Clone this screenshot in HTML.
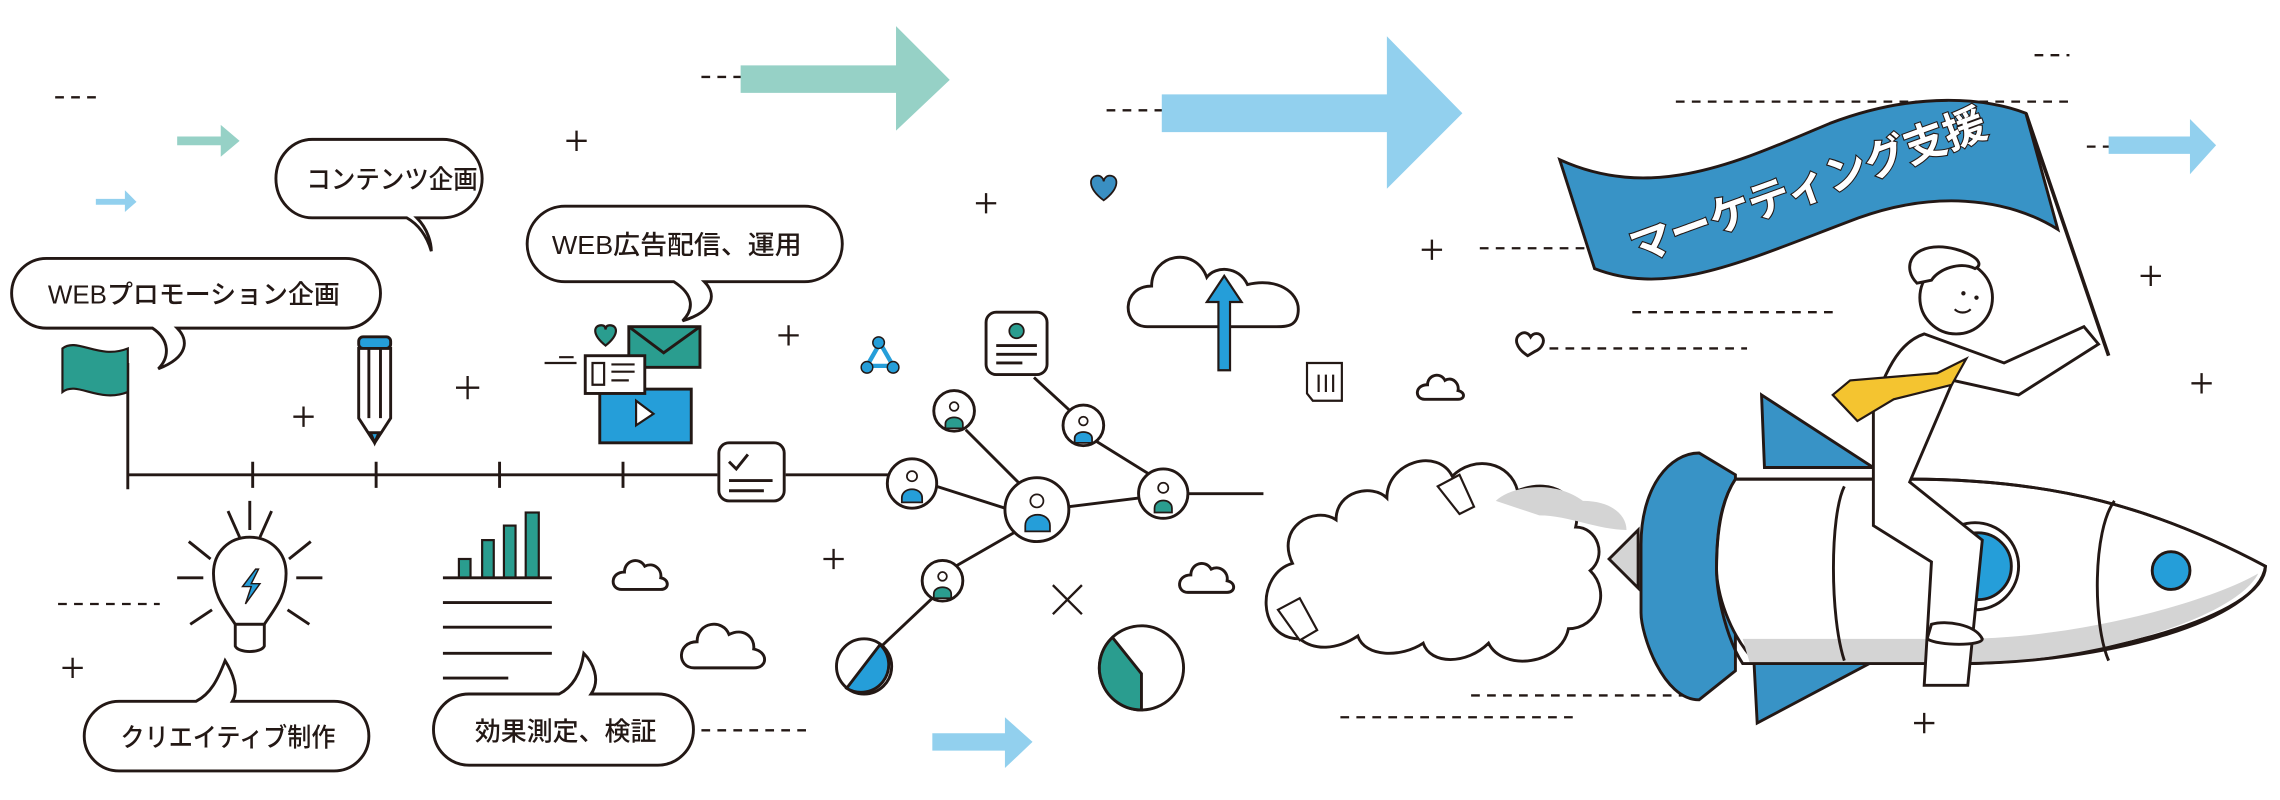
<!DOCTYPE html>
<html><head><meta charset="utf-8"><style>
html,body{margin:0;padding:0;background:#fff;width:2280px;height:800px;overflow:hidden}
svg{display:block}
text{font-family:"Liberation Sans","Noto Sans CJK JP",sans-serif;fill:#231815}
</style></head><body>
<svg width="2280" height="800" viewBox="0 0 1570 551" preserveAspectRatio="none" xmlns="http://www.w3.org/2000/svg">
<g fill="none" stroke="#231815" stroke-width="1.6" stroke-dasharray="6 5">
<line x1="38" y1="67" x2="70" y2="67"/>
<line x1="483" y1="53" x2="525" y2="53"/>
<line x1="762" y1="76" x2="825" y2="76"/>
<line x1="1401" y1="38" x2="1425" y2="38"/>
<line x1="1154" y1="70" x2="1426" y2="70"/>
<line x1="1437" y1="101" x2="1462" y2="101"/>
<line x1="1019" y1="171" x2="1095" y2="171"/>
<line x1="1124" y1="215" x2="1264" y2="215"/>
<line x1="1067" y1="240" x2="1203" y2="240"/>
<line x1="1013" y1="479" x2="1162" y2="479"/>
<line x1="923" y1="494" x2="1084" y2="494"/>
<line x1="40" y1="416" x2="110" y2="416"/>
<line x1="483" y1="503" x2="557" y2="503"/>
</g>
<polygon points="510,45 617,45 617,18 654,55 617,90 617,64 510,64" fill="#96d1c6"/>
<polygon points="800,65 955,65 955,25 1007,78 955,130 955,91 800,91" fill="#92d0ee"/>
<polygon points="1452,94 1508,94 1508,82 1526,100 1508,120 1508,106 1452,106" fill="#92d0ee"/>
<polygon points="642,505 692,505 692,494 711,511 692,529 692,517 642,517" fill="#92d0ee"/>
<polygon points="122,94 152,94 152,86 165,97 152,108 152,100 122,100" fill="#96d1c6"/>
<polygon points="66,137 86,137 86,131 94,139 86,146 86,141 66,141" fill="#92d0ee"/>
<g stroke="#231815" stroke-width="1.6">
<path d="M390,97h14M397,90v14"/><path d="M202,287h14M209,280v14"/><path d="M314,267h16M322,259v16"/>
<path d="M536,231h14M543,224v14"/><path d="M672,140h14M679,133v14"/><path d="M567,385h14M574,378v14"/>
<path d="M43,460h14M50,453v14"/><path d="M979,172h14M986,165v14"/><path d="M1474,190h14M1481,183v14"/>
<path d="M1509,264h14M1516,257v14"/><path d="M1318,498h14M1325,491v14"/>
<path d="M725,403l20,20M745,403l-20,20"/>
</g>
<g fill="#fff" stroke="#231815" stroke-width="2">
<path d="M215,96h90a25,25 0 0 1 0,54h-18c8,8 10,18 10,23c-3,-10 -8,-18 -17,-23h-65a25,27 0 0 1 0,-54z"/>
<path d="M32,178h206a24,24 0 0 1 0,48h-116c8,8 8,20 -13,28c8,-8 8,-20 -4,-28h-73a24,24 0 0 1 0,-48z"/>
<path d="M389,142h165a26,26 0 0 1 0,52h-69c8,8 8,20 -15,27c8,-8 8,-18 -6,-27h-75a26,26 0 0 1 0,-52z"/>
<path d="M82,483h53c10,-5 15,-15 20,-28c5,8 10,20 5,28h70a24,24 0 0 1 0,48h-148a24,24 0 0 1 0,-48z"/>
<path d="M323,478h62c10,-5 15,-15 17,-28c6,6 12,18 5,28h46a24,24 0 0 1 0,49h-130a24,24 0 0 1 0,-49z"/>
</g>
<g font-size="18" font-weight="500">
<text x="211" y="130" textLength="118" lengthAdjust="spacingAndGlyphs">コンテンツ企画</text>
<text x="33" y="209" textLength="201" lengthAdjust="spacingAndGlyphs">WEBプロモーション企画</text>
<text x="380" y="175" textLength="172" lengthAdjust="spacingAndGlyphs">WEB広告配信、運用</text>
<text x="83" y="514" textLength="148" lengthAdjust="spacingAndGlyphs">クリエイティブ制作</text>
<text x="327" y="510" textLength="125" lengthAdjust="spacingAndGlyphs">効果測定、検証</text>
</g>
<g stroke="#231815" stroke-width="2" fill="none">
<path d="M88,250V337M88,327H494M541,327H612M174,318v18M259,318v18M344,318v18M429,318v18"/>
<line x1="645" y1="335" x2="692" y2="350"/><line x1="665" y1="296" x2="703" y2="334"/>
<line x1="736" y1="349" x2="784" y2="343"/><line x1="712" y1="260" x2="738" y2="284"/>
<line x1="755" y1="304" x2="792" y2="327"/><line x1="818" y1="340" x2="870" y2="340"/>
<line x1="698" y1="367" x2="658" y2="390"/><line x1="642" y1="412" x2="606" y2="446"/>
</g>
<path d="M43,240c10,-8 25,8 45,0v30c-20,8 -35,-8 -45,0z" fill="#2a9d8f" stroke="#231815" stroke-width="1.5"/>
<rect x="495" y="305" width="45" height="40" rx="7" fill="#fff" stroke="#231815" stroke-width="2"/>
<path d="M502,318l5,5 8,-10M502,331h30M502,338h24" stroke="#231815" stroke-width="2" fill="none"/>
<g stroke="#231815" stroke-width="2">
<rect x="247" y="232" width="22" height="8" rx="3" fill="#259ed9"/>
<path d="M247,240h22v48l-11,17l-11,-17z" fill="#fff"/>
<path d="M254,240v48M262,240v48" fill="none"/>
<path d="M255,298l3,7l3,-7z" fill="#259ed9"/>
</g>
<path d="M417,238c-10,-8 -8,-14 -3,-14c2,0 3,1 3,3c0,-2 1,-3 3,-3c5,0 7,6 -3,14z" fill="#2a9d8f" stroke="#231815" stroke-width="1.5"/>
<rect x="433" y="225" width="49" height="28" fill="#2a9d8f" stroke="#231815" stroke-width="2"/>
<path d="M433,225l24,18 25,-18" fill="none" stroke="#231815" stroke-width="2"/>
<rect x="413" y="268" width="63" height="37" fill="#259ed9" stroke="#231815" stroke-width="2"/>
<path d="M438,276v17l12,-8z" fill="#fff" stroke="#231815" stroke-width="1.5"/>
<rect x="403" y="245" width="41" height="26" fill="#fff" stroke="#231815" stroke-width="2"/>
<path d="M408,250h8v15h-8zM421,251h16M421,256h16M421,262h12M375,250h22M385,246h10" stroke="#231815" stroke-width="1.5" fill="none"/>
<g stroke="#231815" stroke-width="2" fill="none">
<path d="M172,345v20M157,352l8,18M187,352l-8,18M130,373l15,12M214,373l-15,12M122,398h18M204,398h18M131,430l15,-10M213,430l-15,-10"/>
<path d="M162,430c-8,-12 -15,-20 -15,-35c0,-15 11,-25 25,-25c14,0 25,10 25,25c0,15 -7,23 -15,35z" fill="#fff"/>
<path d="M162,430h20v15c-2,5 -18,5 -20,0z" fill="#fff"/>
</g>
<path d="M176,392l-9,12h6l-4,12 10,-14h-6l5,-10z" fill="#259ed9" stroke="#231815" stroke-width="1"/>
<g fill="#2a9d8f" stroke="#231815" stroke-width="1.5">
<rect x="316" y="385" width="8" height="13"/><rect x="332" y="372" width="8" height="26"/>
<rect x="347" y="362" width="8" height="36"/><rect x="362" y="353" width="9" height="45"/>
</g>
<path d="M305,398h75M305,415h75M305,432h75M305,450h75M305,467h45" stroke="#231815" stroke-width="2"/>
<g fill="#fff" stroke="#231815" stroke-width="2">
<path d="M428,406c-8,0 -8,-12 2,-12c0,-8 10,-11 14,-4c6,-3 12,2 11,8c6,1 6,8 0,8z"/>
<path d="M478,460c-12,0 -12,-18 2,-18c0,-14 18,-16 22,-5c10,-5 18,2 17,10c10,2 10,13 0,13z"/>
<path d="M818,408c-8,0 -8,-12 2,-12c0,-8 10,-11 14,-4c6,-3 12,2 11,8c6,1 6,8 0,8z"/>
<path d="M981,275c-7,0 -7,-10 2,-10c0,-7 9,-9 12,-3c5,-3 10,2 9,7c5,1 5,6 0,6z"/>
<path d="M1052,245c-8,-5 -10,-12 -5,-15c3,-2 6,0 7,2c2,-3 6,-3 8,0c2,3 0,8 -5,10z"/>
<path d="M790,225c-18,0 -18,-28 3,-28c0,-22 30,-28 38,-6c6,-8 22,-8 28,5c20,-5 35,5 35,17c0,12 -8,12 -15,12z"/>
</g>
<path d="M843,190l-12,18h8v47h8v-47h8z" fill="#259ed9" stroke="#231815" stroke-width="1.5"/>
<g fill="#fff" stroke="#231815" stroke-width="1.5">
<path d="M900,250h24v26h-20l-4,-5z"/><path d="M908,258v12M913,258v12M918,258v12"/>
</g>
<g fill="#fff" stroke="#231815" stroke-width="2">
<circle cx="628" cy="333" r="17"/><circle cx="657" cy="283" r="14"/><circle cx="714" cy="351" r="22"/>
<circle cx="746" cy="293" r="14"/><circle cx="801" cy="340" r="17"/><circle cx="649" cy="400" r="14"/>
<rect x="679" y="215" width="42" height="43" rx="7"/>
</g>
<g fill="#2a9d8f" stroke="#231815" stroke-width="1.2">
<circle cx="700" cy="228" r="5"/>
<path d="M651,292c0,-6 12,-6 12,0v3h-12z"/><path d="M795,350c0,-7 12,-7 12,0v3h-12z"/><path d="M643,409c0,-6 12,-6 12,0v3h-12z"/>
</g>
<g fill="#259ed9" stroke="#231815" stroke-width="1.2">
<path d="M621,343c0,-8 14,-8 14,0v3h-14z"/><path d="M706,362c0,-10 17,-10 17,0v4h-17z"/><path d="M740,302c0,-6 12,-6 12,0v3h-12z"/>
</g>
<g fill="#fff" stroke="#231815" stroke-width="1.2">
<circle cx="628" cy="328" r="3.5"/><circle cx="657" cy="280" r="3"/><circle cx="714" cy="345" r="4.5"/><circle cx="746" cy="290" r="3"/><circle cx="801" cy="336" r="3.5"/><circle cx="649" cy="397" r="3"/>
</g>
<path d="M686,238h28M686,244h28M686,250h18" stroke="#231815" stroke-width="2"/>
<circle cx="595" cy="459" r="19" fill="#fff" stroke="#231815" stroke-width="2"/>
<path d="M583,474l23,-30a19,19 0 0 1 -23,30z" fill="#259ed9" stroke="#231815" stroke-width="2"/>
<circle cx="786" cy="460" r="29" fill="#fff" stroke="#231815" stroke-width="2"/>
<path d="M786,489v-25l-20,-25a29,29 0 0 0 20,50z" fill="#2a9d8f" stroke="#231815" stroke-width="2"/>
<g stroke="#259ed9" stroke-width="3" fill="#fff"><path d="M605,238l-8,14M607,238l8,14M597,252h18"/></g>
<g fill="#259ed9" stroke="#231815" stroke-width="1"><circle cx="605" cy="236" r="4"/><circle cx="597" cy="253" r="4"/><circle cx="615" cy="253" r="4"/></g>
<path d="M760,138c-12,-9 -10,-17 -4,-17c2,0 4,2 4,4c0,-2 2,-4 4,-4c6,0 8,8 -4,17z" fill="#3a8fc2" stroke="#231815" stroke-width="1.2"/>
<path d="M895,440c-30,0 -30,-45 -5,-52c-12,-25 15,-40 30,-30c0,-20 25,-25 35,-15c0,-25 35,-35 45,-15c15,-15 40,-10 45,10c25,-10 45,5 40,25c15,0 22,20 10,30c15,15 5,40 -15,40c-5,25 -45,30 -55,10c-15,15 -40,15 -45,0c-15,10 -40,10 -45,-5c-15,10 -30,10 -40,2z" fill="#fff" stroke="#231815" stroke-width="2"/>
<path d="M1030,345c10,-10 40,-15 60,0c20,0 30,10 30,20c-20,0 -40,-10 -60,-10z" fill="#d4d4d4"/>
<path d="M990,335l15,-8 10,22 -10,5z" fill="#fff" stroke="#231815" stroke-width="1.5"/>
<path d="M880,420l15,-8 12,22 -12,7z" fill="#fff" stroke="#231815" stroke-width="1.5"/>
<g stroke="#231815" stroke-width="2">
<path d="M1213,272l77,50h-75z" fill="#3893c6"/>
<path d="M1207,441l101,5 -98,52z" fill="#3893c6"/>
<path d="M1130,375c0,-40 20,-63 40,-63l25,15v135l-25,20c-25,0 -40,-45 -40,-60z" fill="#3893c6"/>
<path d="M1108,385l20,-20v40z" fill="#d4d4d4"/>
<path d="M1195,330h120c100,0 170,20 245,60c0,35 -120,65 -200,67h-150c-20,-20 -28,-50 -28,-65c0,-30 5,-50 13,-62z" fill="#fff"/>
<path d="M1200,440h150c80,0 170,-25 205,-45c-15,30 -110,60 -200,62h-150z" fill="#d4d4d4" stroke="none"/>
<path d="M1195,330c-10,15 -13,35 -13,62c0,20 8,50 18,65h150c100,0 205,-30 210,-67c-75,-40 -145,-60 -245,-60z" fill="none"/>
<path d="M1270,335c-10,20 -10,90 0,120M1456,345c-15,20 -15,85 -4,110" fill="none"/>
<circle cx="1360" cy="390" r="30" fill="#fff"/><circle cx="1362" cy="390" r="23" fill="#259ed9"/>
<circle cx="1495" cy="393" r="13" fill="#259ed9"/>
</g>
<g stroke="#231815" stroke-width="2" fill="#fff">
<path d="M1290,280c10,-30 20,-45 35,-50l55,20 55,-25 10,12 -55,35 -45,-10 -30,70 50,40 -10,100h-30l5,-85 -40,-25z"/>
<path d="M1330,430c10,-3 30,0 35,10c0,5 -30,5 -38,0z"/>
<circle cx="1347" cy="205" r="25"/>
<path d="M1320,195c-10,-10 -5,-25 15,-25c15,0 35,10 25,15c-10,-5 -25,0 -30,8z" fill="#fff"/>
</g>
<circle cx="1352" cy="202" r="1.5" fill="#231815"/><circle cx="1361" cy="205" r="1.5" fill="#231815"/>
<path d="M1346,213c3,3 8,3 11,0" stroke="#231815" stroke-width="1.5" fill="none"/>
<path d="M1262,272l12,-10 60,-5 20,-10 -10,18 -40,10 -25,15z" fill="#f4c430" stroke="#231815" stroke-width="1.5"/>
<path d="M1395,78L1452,245" stroke="#231815" stroke-width="2.5"/>
<path d="M1074,110C1140,140 1200,110 1260,85C1320,62 1370,68 1395,78L1417,158C1380,135 1330,132 1280,150C1200,180 1150,205 1098,185Z" fill="#3893c6" stroke="#231815" stroke-width="2"/>
<text x="1245" y="138" font-size="29" font-weight="bold" text-anchor="middle" transform="rotate(-20 1245 128)" style="fill:#fff;stroke:#231815;stroke-width:1.5;paint-order:stroke">マーケティング支援</text>
</svg>
</body></html>
